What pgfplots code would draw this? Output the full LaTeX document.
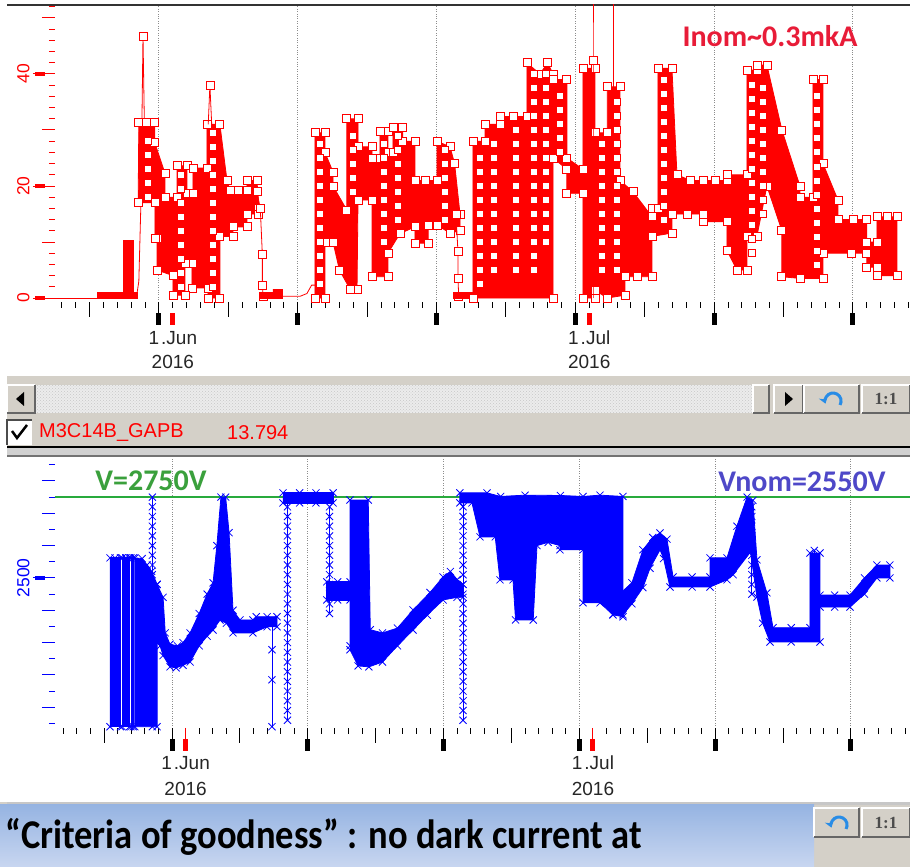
\documentclass[border=0pt]{standalone}
\usepackage{pgfplots}
\pgfplotsset{compat=1.18}
\usepackage{fontspec}
\setmainfont{Liberation Sans}
\newfontfamily\calib{Carlito}
\newfontfamily\serifb{Liberation Serif}
\usetikzlibrary{patterns,arrows.meta}

\definecolor{uigray}{RGB}{212,208,200}
\definecolor{trk}{RGB}{236,236,236}
\definecolor{curred}{RGB}{255,0,0}
\definecolor{hvblue}{RGB}{0,0,255}
\definecolor{limgreen}{RGB}{40,170,60}
\definecolor{inomred}{RGB}{232,28,56}
\definecolor{vgreen}{RGB}{58,160,60}
\definecolor{vnomblue}{RGB}{78,72,200}
\definecolor{boxtop}{RGB}{150,180,226}
\definecolor{boxbot}{RGB}{200,214,240}
\definecolor{swirl}{RGB}{40,140,230}

\newcommand{\ticklab}{\fontsize{19}{19}\selectfont}
\newcommand{\annot}{\calib\bfseries\fontsize{30}{30}\selectfont}
% raised grey button: x1,y1,x2,y2 in pt
\newcommand{\btn}[4]{%
  \fill[uigray] (#1pt,#2pt) rectangle (#3pt,#4pt);
  \draw[white, line width=1.5pt] (#1pt,#2pt) -- (#1pt,#4pt) -- (#3pt,#4pt);
  \draw[black!60, line width=1.5pt] (#1pt,#2pt) -- (#3pt,#2pt) -- (#3pt,#4pt);
}

\pgfplotsset{
  panel/.style={
    scale only axis, width=855pt,
    axis line style={draw=none},
    tick align=outside, xtick pos=bottom, ytick pos=left,
    clip mode=individual,
    xtick={0,10,...,50}, xticklabels={},
    major tick length=22pt, minor tick length=6pt,
    minor xtick={-8,-7,...,54},
    xmajorgrids, major grid style={dotted, black!45, line width=1pt},
    xtick style={black, line width=1pt},
    extra x ticks={-5,5,15,25,35,45}, extra x tick labels={},
    extra x tick style={major tick length=15pt, grid=none},
  },
  sq/.style={curred, fill=curred, line width=0.8pt, mark=square*, mark size=4pt,
    mark options={color=curred, fill=white, solid}},
  sqline/.style={curred, line width=0.8pt, mark=square*, mark size=4pt,
    mark options={color=curred, fill=white, solid}},
  xx/.style={hvblue, fill=hvblue, line width=0.8pt, mark=x, mark size=5pt,
    mark options={solid}},
  xxline/.style={hvblue, line width=0.8pt, mark=x, mark size=5pt},
}

\begin{document}
\begin{tikzpicture}
\useasboundingbox (0pt,0pt) rectangle (910pt,867pt);
\fill[white] (0pt,0pt) rectangle (910pt,867pt);
\draw[black!80, line width=1.5pt] (7pt,862pt) -- (910pt,862pt);

% control band between the panels
\fill[uigray] (7pt,410pt) rectangle (910pt,491pt);
\fill[trk] (35pt,454pt) rectangle (753pt,482pt);
\fill[pattern=crosshatch dots, pattern color=black!22] (35pt,454pt) rectangle (753pt,482pt);
\btn{7}{454}{35}{482}
\fill[black] (16pt,468pt) -- (24pt,475pt) -- (24pt,461pt) -- cycle;
\btn{753}{454}{769}{482}
\btn{774}{454}{803}{482}
\fill[black] (793pt,468pt) -- (785pt,475pt) -- (785pt,461pt) -- cycle;
\btn{804}{454}{859}{482}
\draw[swirl, line width=3pt, -{Stealth[length=7pt,width=9pt]}] (840pt,462pt) arc[start angle=-30, end angle=200, radius=8pt];
\btn{862}{454}{910}{482}
\node[font=\serifb\bfseries\fontsize{17}{17}\selectfont, text=black!70] at (886pt,468pt) {1:1};
\fill[white] (7pt,422pt) rectangle (32pt,447pt);
\draw[black!70, line width=1.5pt] (7pt,422pt) -- (7pt,447pt) -- (32pt,447pt);
\draw[black, line width=2.5pt] (12pt,436pt) -- (17pt,429pt) -- (27pt,442pt);
\node[anchor=west, text=curred, font=\fontsize{20}{20}\selectfont, inner sep=0pt] at (39pt,434pt) {M3C14B\_GAPB};
\node[anchor=west, text=curred, font=\fontsize{20}{20}\selectfont, inner sep=0pt] at (227pt,434pt) {13.794};
\fill[black!18] (7pt,411pt) rectangle (910pt,419pt);
\draw[black, line width=1.5pt] (7pt,420pt) -- (910pt,420pt);
\draw[black!55, line width=1.5pt] (7pt,411pt) -- (910pt,411pt);

% ---------------- current panel ----------------
\begin{axis}[panel, at={(55pt,565pt)}, anchor=south west, height=297pt,
  xmin=-7.49, xmax=54.11, ymin=-0.71, ymax=52.32,
  ytick={0,20,40}, yticklabels={0,20,40},
  minor ytick={2,4,...,52},
  extra y ticks={10,30,50}, extra y tick labels={},
  extra y tick style={major tick length=13pt, grid=none},
  ytick style={curred, line width=1pt},
  yticklabel style={rotate=90, anchor=south, text=curred, font=\fontsize{17.5}{17.5}\selectfont},
]
\addplot[curred, line width=0.8pt] coordinates {(-7.49,0) (-4.47,0)};
\addplot[curred, fill=curred] coordinates {(-4.47,0) (-4.47,1.1) (-1.6,1.1) (-1.6,0)} -- cycle;
\addplot[curred, fill=curred] coordinates {(-2.59,0) (-2.59,10.4) (-1.87,10.4) (-1.87,0)} -- cycle;
\addplot[sqline, mark indices={4}] coordinates {(-1.6,0.5) (-1.45,3) (-1.3,17) (-1.15,46.8) (-1.05,31)};
\addplot[sq] coordinates {
 (-1.5,17)(-1.45,31.4)(-0.9,31.4)(-0.3,31.4)(-0.3,27.7)(0.43,22.3)(0.43,18)(1.3,18)(1.3,23.6)
 (2.02,23.6)(2.02,18.7)(2.45,18.7)(2.45,23.2)(3.46,23.2)(3.46,31)(4.39,31)(4.9,21)
 (5.12,19.3)(5.7,19.3)(6.34,19.3)(6.34,21)(7.06,21)(7.2,16)(7.2,15)(6.34,15)(6.34,12.7)
 (5.33,12.7)(5.33,11)(4.39,11)(4.39,0)(3.53,0)(3.53,1.8)(2.38,1.8)(2.38,6.2)
 (1.87,6.2)(1.87,0.5)(1.01,0.5)(1.01,4)(-0.14,5)(-0.14,10.7)(-0.29,10.7)(-0.29,17)} -- cycle;
\addplot[sqline, mark indices={2}] coordinates {(3.55,31) (3.67,38) (3.8,31)};
\addplot[sqline] coordinates {(7.06,19) (7.3,16) (7.45,7.7) (7.45,2.3) (7.5,0.3)};
\addplot[curred, fill=curred] coordinates {(7.3,0) (7.3,1) (8.2,1) (8.2,1.6) (8.9,1.6) (8.9,0)} -- cycle;
\addplot[curred, line width=0.8pt] coordinates {(8.9,0.3) (10.16,0.3) (10.66,0.8) (11.0,2.3) (11.24,2.3)};
\addplot[sq] coordinates {
 (11.24,0)(11.24,29.5)(11.96,29.5)(11.96,26)(12.54,22.5)(12.54,20)(13.54,15.7)(13.54,32)
 (14.34,32)(14.34,27)(15.35,27)(15.35,25)(15.92,25)(15.92,29.7)(16.5,29.7)(16.5,26)
 (16.86,26)(16.86,30.5)(17.57,30.5)(17.57,28)(18.44,28)(18.44,21)(19.2,21)(20.03,21)(20.03,28)
 (20.97,27)(21.3,24)(21.69,15)(21.69,12)(20.97,11.6)(20.03,13)(19.4,13)(19.4,9.8)
 (18.44,9.8)(18.44,12.7)(17.36,11.5)(16.5,8)(16.5,3.8)(15.35,3.8)(15.35,17.5)(14.34,17.5)
 (14.27,1.6)(13.76,1.6)(13.0,5)(12.54,10)(11.96,10)(11.96,0)} -- cycle;
\addplot[sqline] coordinates {(21.4,15) (21.54,8.3) (21.54,3.5) (21.6,0.2)};
\addplot[curred, fill=curred] coordinates {(21.18,0) (21.18,1) (22.62,1) (22.62,0)} -- cycle;
\addplot[sq] coordinates {
 (22.62,0)(22.62,28)(23.49,28)(23.49,31)(24.57,31)(24.57,32.4)(25.5,32.4)(26.51,32.4)(26.51,42)
 (27.45,40)(28.0,42)(28.39,40)(28.39,39)(29.39,39)(29.39,25)(30.55,23)(30.55,41)
 (31.41,41)(31.41,29.5)(32.3,29.5)(32.3,37.7)(33.21,37.7)(33.21,21)(34.15,19)(35.52,14.5)
 (35.52,16)(35.95,16)(35.95,41)(36.96,41)(37.32,22)(38.3,21)(39.19,21)(40.1,21)(40.92,21)(40.92,22)
 (42.36,22)(42.36,40.7)(43.08,40.7)(43.08,41.6)(43.8,41.6)(44.88,30)(46.18,20)(46.18,18)
 (47.12,18)(47.12,39)(47.84,39)(47.84,24)(48.92,17.5)(48.92,14)(50.0,14)(51.0,14)(51.0,10)
 (51.73,10)(51.73,14.5)(52.5,14.5)(53.17,14.5)(53.17,4)(51.73,4)(51.73,5.5)(51.0,5.5)(51.0,8)
 (49.9,8)(47.84,8)(47.84,3.5)(46.18,3.5)(44.88,3.8)(44.88,12)(43.8,20)(43.08,11)(42.36,11)
 (42.36,5)(41.64,5)(40.92,8.5)(40.92,13.6)(39.19,13.6)(39.19,15)(38.1,15)(36.96,15)(36.96,11.6)
 (35.52,11)(35.52,3.8)(34.5,3.8)(33.57,3.8)(33.57,0.5)(32.3,0)(31.41,1.4)(31.41,0)(30.55,0)
 (30.55,18.7)(29.39,18.7)(29.39,23)(28.39,25)(28.39,0)} -- cycle;
\addplot[sqline, mark indices={2}] coordinates {(31.27,0) (31.27,42.5) (31.27,56)};
\addplot[curred, line width=0.8pt] coordinates {(32.71,20) (32.71,56)};
% stacked readings inside the dense bursts
\addplot[only marks, curred, mark=square*, mark size=3.5pt, mark options={color=curred, fill=white, line width=0.8pt}] coordinates {
 (-0.8,18)(-0.8,20.5)(-0.8,23)(-0.8,25.5)(-0.8,28)
 (1.6,2)(1.6,4.5)(1.6,7)(1.6,9.5)(1.6,12)(1.6,14.5)(1.6,17)(1.6,19.5)(1.6,22)
 (3.9,2)(3.9,4.5)(3.9,7)(3.9,9.5)(3.9,12)(3.9,14.5)(3.9,17)(3.9,19.5)(3.9,22)(3.9,24.5)(3.9,27)(3.9,29.5)
 (11.6,2.5)(11.6,5)(11.6,7.5)(11.6,10)(11.6,12.5)(11.6,15)(11.6,17.5)(11.6,20)(11.6,22.5)(11.6,25)(11.6,27.5)
 (14.0,19)(14.0,21.5)(14.0,24)(14.0,26.5)(14.0,29)
 (16.2,10)(16.2,12.5)(16.2,15)(16.2,17.5)(16.2,20)(16.2,22.5)(16.2,25)(16.2,27.5)
 (17.2,14)(17.2,16.5)(17.2,19)(17.2,21.5)(17.2,24)(17.2,26.5)(17.2,29)
 (20.6,14)(20.6,16.5)(20.6,19)(20.6,21.5)(20.6,24)(20.6,26.5)
 (23.1,2.5)(23.1,5)(23.1,7.5)(23.1,10)(23.1,12.5)(23.1,15)(23.1,17.5)(23.1,20)(23.1,22.5)(23.1,25)
 (24.1,5)(24.1,7.5)(24.1,10)(24.1,12.5)(24.1,15)(24.1,17.5)(24.1,20)(24.1,22.5)(24.1,25)(24.1,27.5)
 (25.7,5)(25.7,7.5)(25.7,10)(25.7,12.5)(25.7,15)(25.7,17.5)(25.7,20)(25.7,22.5)(25.7,25)(25.7,27.5)(25.7,30)
 (27.0,5)(27.0,7.5)(27.0,10)(27.0,12.5)(27.0,15)(27.0,17.5)(27.0,20)(27.0,22.5)(27.0,25)(27.0,27.5)(27.0,30)(27.0,32.5)(27.0,35)(27.0,37.5)(27.0,40)
 (27.9,10)(27.9,12.5)(27.9,15)(27.9,17.5)(27.9,20)(27.9,22.5)(27.9,25)(27.9,27.5)(27.9,30)(27.9,32.5)(27.9,35)(27.9,37.5)(27.9,40)
 (28.9,26)(28.9,28.5)(28.9,31)(28.9,33.5)(28.9,36)
 (31.9,5)(31.9,7.5)(31.9,10)(31.9,12.5)(31.9,15)(31.9,17.5)(31.9,20)(31.9,22.5)(31.9,25)(31.9,27.5)
 (33.0,5)(33.0,7.5)(33.0,10)(33.0,12.5)(33.0,15)(33.0,17.5)(33.0,20)(33.0,22.5)(33.0,25)(33.0,27.5)(33.0,30)(33.0,32.5)(33.0,35)
 (36.4,14)(36.4,16.5)(36.4,19)(36.4,21.5)(36.4,24)(36.4,26.5)(36.4,29)(36.4,31.5)(36.4,34)(36.4,36.5)(36.4,39)
 (42.7,8)(42.7,10.5)(42.7,13)(42.7,15.5)(42.7,18)(42.7,20.5)(42.7,23)(42.7,25.5)(42.7,28)(42.7,30.5)(42.7,33)(42.7,35.5)(42.7,38)
 (43.5,15)(43.5,17.5)(43.5,20)(43.5,22.5)(43.5,25)(43.5,27.5)(43.5,30)(43.5,32.5)(43.5,35)(43.5,37.5)
 (47.4,6)(47.4,8.5)(47.4,11)(47.4,13.5)(47.4,16)(47.4,18.5)(47.4,21)(47.4,23.5)(47.4,26)(47.4,28.5)(47.4,31)(47.4,33.5)(47.4,36)
};
% tick decorations and date labels
\pgfplotsinvokeforeach{0,10,20,30,40,50}{
  \fill[black] ([xshift=-2.5pt,yshift=-11pt]axis cs:#1,-0.71) rectangle ([xshift=2.5pt,yshift=-23pt]axis cs:#1,-0.71);
}
\pgfplotsinvokeforeach{1,31}{
  \fill[curred] ([xshift=-2.5pt,yshift=-11pt]axis cs:#1,-0.71) rectangle ([xshift=2.5pt,yshift=-23pt]axis cs:#1,-0.71);
}
\pgfplotsinvokeforeach{0,20,40}{
  \fill[curred] ([xshift=-20pt,yshift=-2.2pt]axis cs:-7.49,#1) rectangle ([xshift=-10pt,yshift=2.2pt]axis cs:-7.49,#1);
}
\node[font=\ticklab, text=black!85] at ([yshift=-36pt]axis cs:1,-0.71) {1\kern2pt.Jun};
\node[font=\ticklab, text=black!85] at ([yshift=-60pt]axis cs:1,-0.71) {2016};
\node[font=\ticklab, text=black!85] at ([yshift=-36pt]axis cs:31,-0.71) {1\kern2pt.Jul};
\node[font=\ticklab, text=black!85] at ([yshift=-60pt]axis cs:31,-0.71) {2016};
\end{axis}

% ---------------- voltage panel ----------------
\begin{axis}[panel, at={(55pt,139pt)}, anchor=south west, height=271pt,
  xmin=-8.62, xmax=54.35, ymin=2036, ymax=2874,
  ytick={2500}, yticklabels={2500},
  minor ytick={2050,2100,...,2850},
  extra y ticks={2100,2200,2300,2400,2600,2700,2800}, extra y tick labels={},
  extra y tick style={major tick length=13pt, grid=none},
  ytick style={hvblue, line width=1pt},
  yticklabel style={rotate=90, anchor=south, text=hvblue, font=\fontsize{17.5}{17.5}\selectfont},
]
\addplot[limgreen, line width=1.2pt] coordinates {(-8.62,2750) (54.35,2750)};
\addplot[xx] coordinates {(-4.57,2040)(-4.57,2562)(-4.2,2562)(-3.8,2562)(-3.8,2040)} -- cycle;
\addplot[xx] coordinates {(-3.68,2040)(-3.68,2562)(-3.4,2562)(-3.14,2562)(-3.14,2040)} -- cycle;
\addplot[xx] coordinates {(-3.03,2040)(-3.03,2562)(-2.86,2562)(-2.86,2040)} -- cycle;
\addplot[xx] coordinates {
 (-2.74,2040)(-2.74,2562)(-2.2,2560)(-1.84,2540)(-1.5,2520)(-1.1,2480)(-1.1,2040)} -- cycle;
\addplot[xxline] coordinates {(-1.45,2040)(-1.45,2480)(-1.45,2510)(-1.45,2540)(-1.45,2570)(-1.45,2600)
 (-1.45,2630)(-1.45,2660)(-1.45,2690)(-1.45,2720)(-1.45,2750)};
\addplot[xx] coordinates {
 (-1.1,2480)(-0.66,2440)(-0.5,2330)(-0.15,2295)(0.4,2290)(0.81,2300)(1.33,2330)(2.0,2390)
 (2.58,2450)(3.02,2485)(3.3,2600)(3.6,2750)(3.95,2750)(4.2,2640)(4.49,2400)(5.0,2370)
 (5.96,2370)(6.2,2380)(7.0,2380)(7.73,2380)(7.73,2349)(7.0,2349)(5.96,2330)(4.49,2330)(4.0,2360)(3.53,2370)
 (3.02,2339)(2.58,2320)(2.0,2290)(1.33,2240)(0.81,2230)(0.3,2222)(-0.15,2225)(-0.66,2260)
 (-0.88,2290)(-1.1,2300)} -- cycle;
\addplot[xxline] coordinates {(7.36,2370)(7.36,2278)(7.36,2185)(7.36,2040)};
\addplot[xxline] coordinates {(8.5,2060)(8.5,2090)(8.5,2120)(8.5,2150)(8.5,2180)(8.5,2210)(8.5,2240)
 (8.5,2270)(8.5,2300)(8.5,2330)(8.5,2360)(8.5,2390)(8.5,2420)(8.5,2450)(8.5,2480)(8.5,2510)
 (8.5,2540)(8.5,2570)(8.5,2600)(8.5,2630)(8.5,2660)(8.5,2690)(8.5,2720)(8.5,2750)};
\addplot[xx] coordinates {(8.17,2732)(8.17,2763)(9.4,2763)(10.6,2763)(11.86,2763)(11.86,2732)(10.6,2732)(9.4,2732)} -- cycle;
\addplot[xxline] coordinates {(11.6,2390)(11.6,2420)(11.6,2450)(11.6,2480)(11.6,2510)(11.6,2540)(11.6,2570)
 (11.6,2600)(11.6,2630)(11.6,2660)(11.6,2690)(11.6,2720)};
\addplot[xx] coordinates {(11.4,2432)(11.4,2488)(12.2,2488)(13.11,2488)(13.11,2432)(12.2,2432)} -- cycle;
\addplot[xx] coordinates {
 (13.11,2290)(13.11,2741)(14.45,2741)(14.6,2340)(15.5,2330)(16.6,2345)(17.75,2401)(19.0,2455)
 (19.96,2503)(20.5,2520)(21.0,2495)(21.43,2480)(21.43,2440)(20.99,2440)(19.96,2432)(18.8,2385)
 (17.75,2339)(16.6,2290)(15.5,2240)(14.5,2225)(13.7,2228)(13.11,2278)} -- cycle;
\addplot[xxline] coordinates {(21.43,2060)(21.43,2090)(21.43,2120)(21.43,2150)(21.43,2180)(21.43,2210)
 (21.43,2240)(21.43,2270)(21.43,2300)(21.43,2330)(21.43,2360)(21.43,2390)(21.43,2420)(21.43,2450)
 (21.43,2480)(21.43,2510)(21.43,2540)(21.43,2570)(21.43,2600)(21.43,2630)(21.43,2660)(21.43,2690)
 (21.43,2720)(21.43,2750)};
\addplot[xx] coordinates {
 (21.2,2732)(21.2,2763)(23.2,2763)(24.2,2752)(26,2756)(28.6,2755)(30.27,2752)(31.52,2756)
 (33.21,2752)(33.21,2380)(32.47,2386)(31.52,2423)(30.27,2423)(30.27,2587)(28.57,2587)(28.57,2600)
 (27.7,2610)(26.88,2600)(26.6,2370)(25.3,2370)(25.11,2494)(24.15,2494)(23.8,2627)(22.68,2627)(22.09,2732)} -- cycle;
\addplot[xxline] coordinates {(32.8,2400)(32.8,2430)(32.8,2460)(32.8,2490)(32.8,2520)(32.8,2550)(32.8,2580)
 (32.8,2610)(32.8,2640)(32.8,2670)(32.8,2700)(32.8,2730)};
\addplot[xx] coordinates {
 (32.47,2432)(33.87,2485)(34.68,2587)(35.4,2625)(35.94,2639)(36.45,2620)(36.9,2503)(38.3,2503)
 (39.62,2503)(39.62,2562)(40.87,2562)(41.6,2660)(42.35,2750)(42.78,2740)(43.08,2556)(43.81,2454)
 (44.26,2346)(45.6,2346)(46.98,2346)(46.98,2577)(47.72,2577)(47.72,2447)(48.8,2447)(49.93,2447)
 (51.0,2500)(51.91,2540)(52.87,2540)(52.87,2500)(51.91,2500)(51.0,2450)(49.93,2410)(48.8,2410)
 (47.72,2410)(47.72,2302)(45.6,2302)(44.04,2302)(43.5,2360)(43.08,2441)(42.6,2580)(41.32,2510)
 (40.87,2494)(39.62,2472)(38.3,2472)(36.67,2472)(36.2,2560)(35.94,2587)(35.2,2530)(34.68,2470)
 (33.87,2420)(33.21,2386)(32.47,2386)} -- cycle;
\addplot[xxline] coordinates {(42.7,2450)(42.7,2480)(42.7,2510)(42.7,2540)(42.7,2570)(42.7,2600)
 (42.7,2630)(42.7,2660)(42.7,2690)(42.7,2720)};
\addplot[xxline] coordinates {(47.3,2320)(47.3,2350)(47.3,2380)(47.3,2410)(47.3,2440)(47.3,2470)
 (47.3,2500)(47.3,2530)(47.3,2560)(47.3,2585)};
\pgfplotsinvokeforeach{0,10,20,30,40,50}{
  \fill[black] ([xshift=-2.5pt,yshift=-11pt]axis cs:#1,2036) rectangle ([xshift=2.5pt,yshift=-23pt]axis cs:#1,2036);
}
\pgfplotsinvokeforeach{1,31}{
  \draw[curred, line width=1pt] (axis cs:#1,2036) -- ([yshift=-12pt]axis cs:#1,2036);
  \fill[curred] ([xshift=-2.5pt,yshift=-11pt]axis cs:#1,2036) rectangle ([xshift=2.5pt,yshift=-23pt]axis cs:#1,2036);
}
\fill[hvblue] ([xshift=-20pt,yshift=-2.2pt]axis cs:-8.62,2500) rectangle ([xshift=-10pt,yshift=2.2pt]axis cs:-8.62,2500);
\node[font=\ticklab, text=black!85] at ([yshift=-35pt]axis cs:1,2036) {1\kern2pt.Jun};
\node[font=\ticklab, text=black!85] at ([yshift=-61pt]axis cs:1,2036) {2016};
\node[font=\ticklab, text=black!85] at ([yshift=-35pt]axis cs:31,2036) {1\kern2pt.Jul};
\node[font=\ticklab, text=black!85] at ([yshift=-61pt]axis cs:31,2036) {2016};
\end{axis}

% annotations
\node[text=inomred, font=\annot] at (770pt,831pt) {Inom\textasciitilde0.3mkA};
\node[text=vgreen, font=\annot] at (151pt,386pt) {V=2750V};
\node[text=vnomblue, font=\annot] at (802pt,385pt) {Vnom=2550V};

% bottom strip with the slide text box
\fill[uigray] (0pt,0pt) rectangle (910pt,65pt);
\fill[black!22] (7pt,62pt) rectangle (910pt,65pt);
\shade[top color=boxtop, bottom color=boxbot] (0pt,0pt) rectangle (814pt,62pt);
\node[anchor=base west, inner sep=0pt, yscale=1.12, font=\calib\bfseries\fontsize{36.5}{36.5}\selectfont] at (5pt,18pt) {“Criteria of goodness” : no dark current at};
\btn{814}{30}{859}{59}
\draw[swirl, line width=3pt, -{Stealth[length=7pt,width=9pt]}] (846pt,38pt) arc[start angle=-30, end angle=200, radius=8pt];
\btn{862}{30}{910}{59}
\node[font=\serifb\bfseries\fontsize{17}{17}\selectfont, text=black!70] at (886pt,44pt) {1:1};
\end{tikzpicture}
\end{document}
